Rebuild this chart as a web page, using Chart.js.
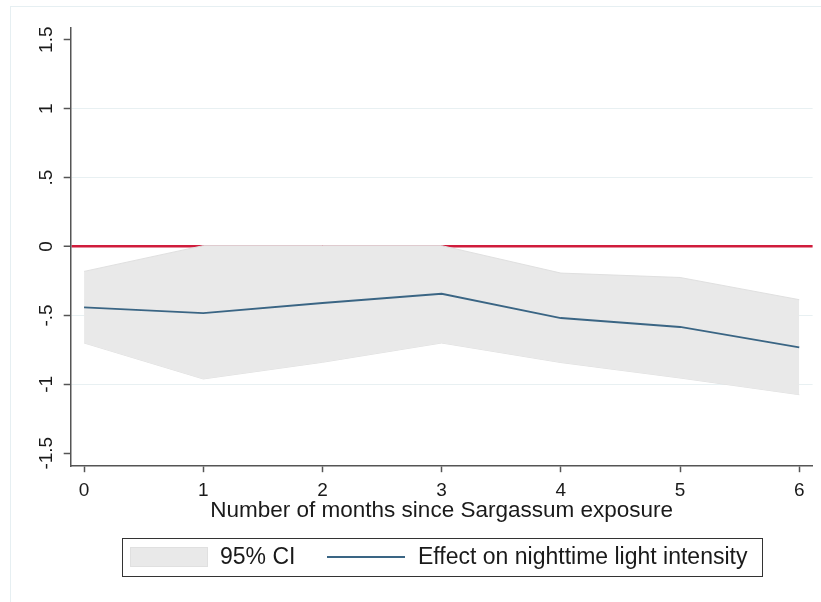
<!DOCTYPE html>
<html>
<head>
<meta charset="utf-8">
<script src="https://cdn.jsdelivr.net/npm/chart.js@4.4.1/dist/chart.umd.min.js"></script>
<style>
  html, body { margin: 0; padding: 0; background: #fff; }
  canvas { display: block; }
</style>
</head>
<body>
<canvas id="grafico" width="821" height="602"></canvas>
<script>
// datos
const meses = [0, 1, 2, 3, 4, 5, 6];
const efecto = [-0.442, -0.483, -0.41, -0.343, -0.519, -0.584, -0.732];
const ciSup = [-0.181, 0.006, 0.006, 0.006, -0.193, -0.225, -0.386];
const ciInf = [-0.70, -0.961, -0.84, -0.70, -0.842, -0.954, -1.075];
const ticksY = [-1.5, -1, -0.5, 0, 0.5, 1, 1.5];

const tituloX = 'Number of months since Sargassum exposure';
const etiquetaCI = '95% CI';
const etiquetaEfecto = 'Effect on nighttime light intensity';

const fuente = "'Liberation Sans', Arial, sans-serif";
const colorEje = '#555555';
const colorTexto = '#1a1a1a';
const colorBanda = '#e9e9e9';
const colorBordeBanda = '#e0e0e0';
const colorLinea = '#3a6584';
const colorCero = '#d01c3c';
const colorGrilla = '#e8f0f2';

function formatoStata(v) {
  return String(v).replace('0.', '.');
}

const puntos = arr => meses.map((m, i) => ({ x: m, y: arr[i] }));

// marco, etiquetas del eje y rotadas y leyenda con recuadro
const pluginExtras = {
  id: 'extras',
  beforeDraw(chart) {
    const ctx = chart.ctx;
    ctx.save();
    ctx.fillStyle = '#ffffff';
    ctx.fillRect(0, 0, chart.width, chart.height);
    ctx.strokeStyle = '#e6eff2';
    ctx.lineWidth = 1;
    ctx.strokeRect(10.5, 6.5, 900, 900);
    ctx.restore();
  },
  afterDraw(chart) {
    const ctx = chart.ctx;
    const y = chart.scales.y;
    ctx.save();
    ctx.fillStyle = colorTexto;
    ctx.font = '19px ' + fuente;
    ctx.textAlign = 'center';
    ctx.textBaseline = 'middle';
    y.ticks.forEach(t => {
      const py = y.getPixelForValue(t.value);
      ctx.save();
      ctx.translate(46, py);
      ctx.rotate(-Math.PI / 2);
      ctx.fillText(formatoStata(t.value), 0, 1);
      ctx.restore();
    });

    // leyenda
    const ds = chart.data.datasets;
    const ci = ds[1];
    const ef = ds[0];
    ctx.strokeStyle = '#333333';
    ctx.lineWidth = 1;
    ctx.strokeRect(122.5, 538.5, 640, 38);
    ctx.fillStyle = ci.backgroundColor;
    ctx.fillRect(130, 547, 78, 20);
    ctx.strokeStyle = ci.borderColor;
    ctx.strokeRect(130.5, 547.5, 77, 19);
    ctx.strokeStyle = ef.borderColor;
    ctx.lineWidth = ef.borderWidth;
    ctx.beginPath();
    ctx.moveTo(327, 557);
    ctx.lineTo(405, 557);
    ctx.stroke();
    ctx.fillStyle = colorTexto;
    ctx.font = '23px ' + fuente;
    ctx.textAlign = 'left';
    ctx.textBaseline = 'middle';
    ctx.fillText(ci.label, 220, 558);
    ctx.fillText(ef.label, 418, 558);
    ctx.restore();
  }
};

new Chart(document.getElementById('grafico').getContext('2d'), {
  type: 'line',
  data: {
    datasets: [
      {
        label: etiquetaEfecto,
        data: puntos(efecto),
        fill: false,
        borderColor: colorLinea,
        borderWidth: 1.8,
        pointRadius: 0,
        tension: 0
      },
      {
        label: etiquetaCI,
        data: puntos(ciSup),
        fill: '+1',
        backgroundColor: colorBanda,
        borderColor: colorBordeBanda,
        borderWidth: 1,
        pointRadius: 0,
        tension: 0
      },
      {
        label: 'ci inferior',
        data: puntos(ciInf),
        fill: false,
        borderColor: colorBordeBanda,
        borderWidth: 1,
        pointRadius: 0,
        tension: 0
      }
    ]
  },
  options: {
    responsive: false,
    animation: false,
    layout: { padding: { left: 63.7, right: 8.4, top: 28, bottom: 80 } },
    plugins: {
      legend: { display: false },
      tooltip: { enabled: false }
    },
    scales: {
      x: {
        type: 'linear',
        min: -0.112,
        max: 6.112,
        afterBuildTicks: s => { s.ticks = meses.map(v => ({ value: v })); },
        grid: { drawOnChartArea: false, tickLength: 6, tickColor: colorEje, tickWidth: 1.5 },
        border: { color: colorEje, width: 1.5 },
        ticks: {
          color: colorTexto,
          padding: 9,
          maxRotation: 0,
          font: { family: fuente, size: 19, lineHeight: 1 }
        },
        title: {
          display: true,
          text: tituloX,
          color: colorTexto,
          padding: { top: -9.7, bottom: 0 },
          font: { family: fuente, size: 22.5, lineHeight: 1 }
        }
      },
      y: {
        min: -1.594,
        max: 1.585,
        afterBuildTicks: s => { s.ticks = ticksY.map(v => ({ value: v })); },
        ticks: { display: false },
        grid: {
          color: c => {
            const v = c.tick ? c.tick.value : null;
            if (v === 0) return colorCero;
            if (v === 1.5 || v === -1.5) return 'rgba(0,0,0,0)';
            return colorGrilla;
          },
          lineWidth: c => (c.tick && c.tick.value === 0 ? 2.5 : 1),
          tickLength: 7,
          tickColor: colorEje,
          tickWidth: 1.5
        },
        border: { color: colorEje, width: 1.5 }
      }
    }
  },
  plugins: [pluginExtras]
});
</script>
</body>
</html>
